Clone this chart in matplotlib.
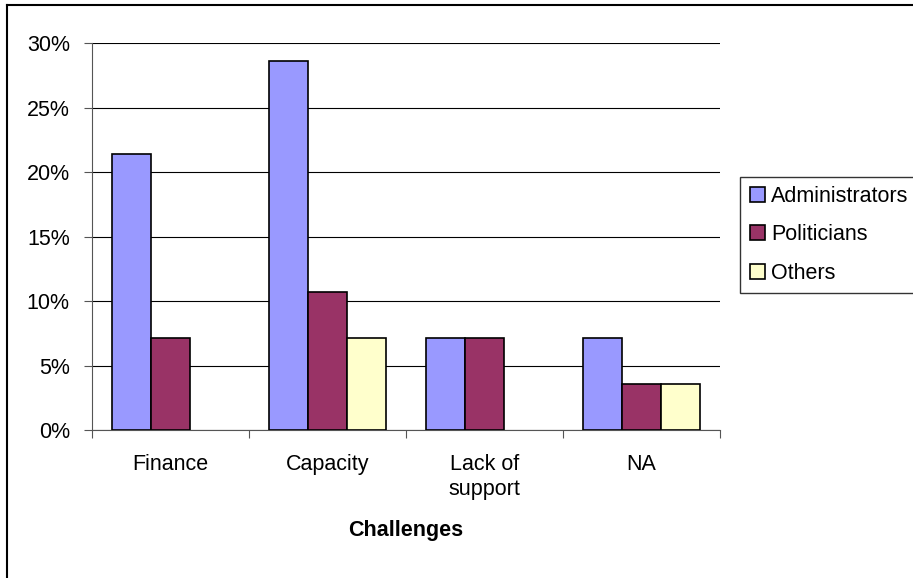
import numpy as np
import matplotlib.pyplot as plt
from matplotlib.lines import Line2D

plt.rcParams['font.family'] = ['Liberation Sans', 'DejaVu Sans']

categories = ['Finance', 'Capacity', 'Lack of\nsupport', 'NA']
administrators = [21.4, 28.6, 7.1, 7.1]
politicians = [7.1, 10.7, 7.1, 3.6]
others = [0.0, 7.1, 0.0, 3.6]

series = [('Administrators', administrators, '#9999FF'),
          ('Politicians', politicians, '#993366'),
          ('Others', others, '#FFFFCC')]

fs = 15.5

fig = plt.figure(figsize=(9.13, 5.78), dpi=100)
ax = fig.add_axes([0.1008, 0.256, 0.6878, 0.6696])

x = np.arange(len(categories)) + 0.5
w = 0.25
for k, (name, vals, col) in enumerate(series):
    v = np.array(vals)
    pos = x + (k - 1) * w
    mask = v > 0
    ax.bar(pos[mask], v[mask], width=w, color=col, edgecolor='black',
           linewidth=1.2, label=name, zorder=3)

ax.set_xlim(0, 4)
ax.set_ylim(0, 30)
ax.set_yticks(np.arange(0, 31, 5))
ax.set_yticklabels([f'{t}%' for t in range(0, 31, 5)], fontsize=fs)
ax.yaxis.grid(True, color='black', linewidth=0.8, zorder=0)

ax.set_xticks(np.arange(0, 5))
ax.set_xticklabels([])
ax.set_xticks(x, minor=True)
ax.set_xticklabels(categories, minor=True, fontsize=fs, linespacing=1.3)
ax.tick_params(axis='x', which='minor', length=0, pad=17)
ax.tick_params(axis='x', which='major', length=6, color='#555555', direction='out')
ax.tick_params(axis='y', length=6, color='#555555', pad=10)

for s in ['top', 'right']:
    ax.spines[s].set_visible(False)
ax.spines['left'].set_color('#555555')
ax.spines['bottom'].set_color('#555555')

ax.set_xlabel('Challenges', fontsize=fs, fontweight='bold', labelpad=14)

leg = ax.legend(loc='upper left', bbox_to_anchor=(1.032, 0.655), fontsize=fs,
                frameon=True, fancybox=False, edgecolor='black',
                handlelength=0.7, handleheight=0.7, handletextpad=0.3,
                borderpad=0.45, labelspacing=0.8, borderaxespad=0)
leg.get_frame().set_linewidth(1.0)

# outer frame: only left and top edges
fig.lines.append(Line2D([7 / 913, 7 / 913], [0, 1 - 5 / 578], transform=fig.transFigure,
                        color='black', linewidth=1.5))
fig.lines.append(Line2D([7 / 913, 1], [1 - 5 / 578, 1 - 5 / 578], transform=fig.transFigure,
                        color='black', linewidth=1.5))

fig.savefig('out.png', dpi=100)
